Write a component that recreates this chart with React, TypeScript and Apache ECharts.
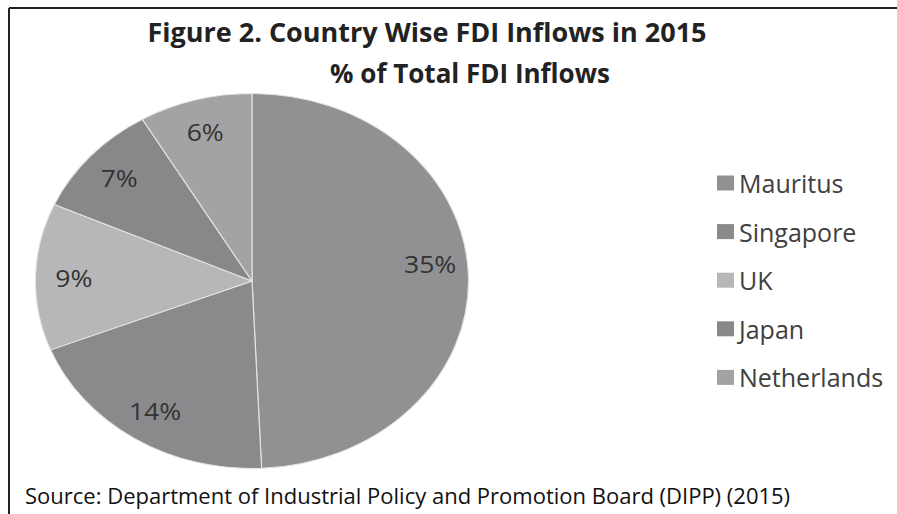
import React, { useEffect, useRef } from "react";
import * as echarts from "echarts";

const countries = ["Mauritus", "Singapore", "UK", "Japan", "Netherlands"];
const shares = [35, 14, 9, 7, 6];
const sliceColors = ["#919194", "#8a8a8c", "#b7b7b9", "#88888a", "#a3a3a5"];
const titleLine1 = "Figure 2. Country Wise FDI Inflows in 2015";
const titleLine2 = "% of Total FDI Inflows";
const sourceText = "Source: Department of Industrial Policy and Promotion Board (DIPP) (2015)";

const FONT = "'Open Sans', 'Noto Sans', sans-serif";

export default function App() {
  const mainRef = useRef<HTMLDivElement>(null);
  const pieRef = useRef<HTMLDivElement>(null);

  useEffect(() => {
    if (!mainRef.current || !pieRef.current) return;
    const main = echarts.init(mainRef.current, null, { renderer: "svg" });
    const pie = echarts.init(pieRef.current, null, { renderer: "svg" });

    const data = countries.map((name, i) => ({ name, value: shares[i] }));

    main.setOption({
      animation: false,
      backgroundColor: "#ffffff",
      color: sliceColors,
      legend: {
        orient: "vertical",
        left: 712,
        top: 165,
        itemWidth: 17,
        itemHeight: 15,
        itemGap: 22.6,
        icon: "rect",
        data: countries,
        textStyle: {
          fontFamily: FONT,
          fontSize: 25,
          lineHeight: 26,
          color: "#404040",
          padding: [0, 0, 0, 0],
        },
      },
      series: [
        {
          type: "pie",
          radius: [0, 0],
          center: [-100, -100],
          silent: true,
          label: { show: false },
          labelLine: { show: false },
          data,
        },
      ],
      graphic: [
        {
          type: "line",
          shape: { x1: 9, y1: 8, x2: 897, y2: 8 },
          style: { stroke: "#222", lineWidth: 2 },
        },
        {
          type: "line",
          shape: { x1: 9, y1: 8, x2: 9, y2: 514 },
          style: { stroke: "#222", lineWidth: 2 },
        },
        {
          type: "text",
          x: 427,
          y: 31,
          style: {
            text: titleLine1,
            textAlign: "center",
            textVerticalAlign: "middle",
            fontFamily: FONT,
            fontWeight: "bold",
            fontSize: 27,
            fill: "#222",
          },
        },
        {
          type: "text",
          x: 470,
          y: 73,
          style: {
            text: titleLine2,
            textAlign: "center",
            textVerticalAlign: "middle",
            fontFamily: FONT,
            fontWeight: "bold",
            fontSize: 26,
            fill: "#222",
          },
        },
        {
          type: "text",
          x: 25,
          y: 495,
          style: {
            text: sourceText,
            textAlign: "left",
            textVerticalAlign: "middle",
            fontFamily: FONT,
            fontSize: 22,
            fill: "#111",
          },
        },
      ],
    });

    pie.setOption({
      animation: false,
      color: sliceColors,
      series: [
        {
          type: "pie",
          radius: [0, 187.5],
          center: ["50%", "50%"],
          startAngle: 90,
          clockwise: true,
          silent: true,
          label: { show: false },
          labelLine: { show: false },
          itemStyle: { borderColor: "#e4e4e4", borderWidth: 1 },
          data,
        },
        {
          type: "pie",
          radius: [115, 187.5],
          center: ["50%", "50%"],
          startAngle: 90,
          clockwise: true,
          silent: true,
          avoidLabelOverlap: false,
          itemStyle: { color: "rgba(0,0,0,0)", borderWidth: 0 },
          labelLine: { show: false },
          label: {
            show: true,
            position: "inside",
            formatter: "{c}%",
            fontFamily: FONT,
            fontSize: 23,
            color: "#333",
          },
          data: data.map((d, i) =>
            i === 0 ? { ...d, label: { offset: [0, -14] } } : d
          ),
        },
      ],
    });

    return () => {
      main.dispose();
      pie.dispose();
    };
  }, []);

  return (
    <div style={{ position: "absolute", left: 0, top: 0, width: 897, height: 514 }}>
      <div ref={mainRef} style={{ position: "absolute", left: 0, top: 0, width: 897, height: 514 }} />
      <div
        ref={pieRef}
        style={{
          position: "absolute",
          left: 52,
          top: 80.5,
          width: 400,
          height: 400,
          transform: "scaleX(1.155)",
          transformOrigin: "50% 50%",
        }}
      />
    </div>
  );
}
